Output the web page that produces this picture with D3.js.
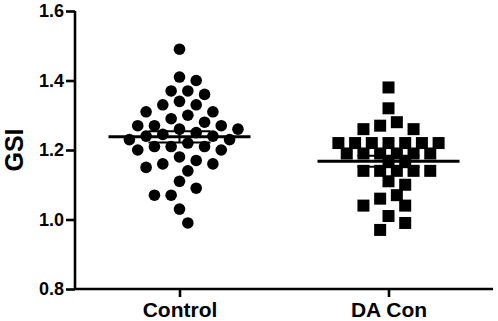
<!DOCTYPE html>
<html>
<head>
<meta charset="utf-8">
<script src="https://cdn.jsdelivr.net/npm/d3@7"></script>
<style>
  body { margin: 0; background: #fff; }
  svg { display: block; font-family: "Liberation Sans", Arial, sans-serif; }
</style>
</head>
<body>
<svg id="chart" width="498" height="321"></svg>
<script>
const groups = ["Control", "DA Con"];
const controlValues = [1.49, 1.41, 1.40, 1.37, 1.37, 1.36, 1.34, 1.33, 1.33, 1.31, 1.31, 1.30, 1.29, 1.28,
  1.27, 1.27, 1.27, 1.26, 1.26, 1.25, 1.245, 1.24, 1.24, 1.23, 1.23, 1.22, 1.21, 1.21, 1.21,
  1.20, 1.20, 1.18, 1.17, 1.16, 1.16, 1.15, 1.14, 1.11, 1.09, 1.07, 1.07, 1.03, 0.99];
const daConValues = [1.38, 1.32, 1.28, 1.27, 1.26, 1.26,
  1.22, 1.22, 1.22, 1.22, 1.22, 1.22, 1.22,
  1.19, 1.19, 1.19, 1.19, 1.19, 1.19,
  1.165, 1.165,
  1.14, 1.14, 1.14, 1.14, 1.14,
  1.11, 1.10, 1.07, 1.06, 1.04, 1.04, 1.01, 0.99, 0.97];
const yTicks = [0.8, 1.0, 1.2, 1.4, 1.6];
const yLabel = "GSI";

const svg = d3.select("#chart");
const plotLeft = 75, plotRight = 493, plotTop = 11, plotBottom = 289;

const x = d3.scalePoint().domain(groups).range([plotLeft, plotRight]).padding(0.5);
const y = d3.scaleLinear().domain([0.8, 1.6]).range([plotBottom, plotTop]);

// simple quantized beeswarm, like prism's scatter dot plot
function swarm(values, cx) {
  const step = 8.35, placed = [];
  values.slice().sort((a, b) => b - a).forEach(v => {
    const py = y(v);
    for (let k = 0; k < 60; k++) {
      const off = k === 0 ? 0 : (k % 2 ? 1 : -1) * Math.ceil(k / 2) * step;
      const px = cx + off;
      const hit = placed.some(p => Math.abs(p.x - px) / 16.5 + Math.abs(p.y - py) / 17 < 1);
      if (!hit) { placed.push({ v, x: px, y: py }); break; }
    }
  });
  return placed;
}

const ctrl = swarm(controlValues, x("Control"));
const da = swarm(daConValues, x("DA Con"));

svg.append("g").selectAll("circle").data(ctrl).enter().append("circle")
  .attr("cx", d => d.x).attr("cy", d => d.y).attr("r", 5.8).attr("fill", "#000");

svg.append("g").selectAll("rect").data(da).enter().append("rect")
  .attr("x", d => d.x - 6).attr("y", d => d.y - 6).attr("width", 12).attr("height", 12).attr("fill", "#000");

// mean line + sem
[[controlValues, "Control"], [daConValues, "DA Con"]].forEach(([vals, g]) => {
  const m = d3.mean(vals), sem = d3.deviation(vals) / Math.sqrt(vals.length);
  const cx = x(g);
  svg.append("line").attr("x1", cx - 71).attr("x2", cx + 71).attr("y1", y(m)).attr("y2", y(m))
    .attr("stroke", "#000").attr("stroke-width", 3);
  svg.append("line").attr("x1", cx).attr("x2", cx).attr("y1", y(m - sem)).attr("y2", y(m + sem))
    .attr("stroke", "#000").attr("stroke-width", 2);
  [m - sem, m + sem].forEach(e => svg.append("line").attr("x1", cx - 31).attr("x2", cx + 31)
    .attr("y1", y(e)).attr("y2", y(e)).attr("stroke", "#000").attr("stroke-width", 2));
});

const yAxis = svg.append("g").attr("transform", `translate(${plotLeft},0)`)
  .call(d3.axisLeft(y).tickValues(yTicks).tickFormat(d3.format(".1f")).tickSize(9).tickPadding(2));
const xAxis = svg.append("g").attr("transform", `translate(0,${plotBottom})`)
  .call(d3.axisBottom(x).tickSize(8).tickPadding(5));

[yAxis, xAxis].forEach(a => {
  a.select(".domain").attr("stroke", "#000").attr("stroke-width", 2.6);
  a.selectAll(".tick line").attr("stroke", "#000").attr("stroke-width", 2.6);
  a.selectAll("text").attr("fill", "#000").attr("font-weight", "bold").attr("font-family", "Liberation Sans, Arial, sans-serif");
});
yAxis.select(".domain").attr("d", `M0,${plotTop}V${plotBottom}`);
xAxis.select(".domain").attr("d", `M${plotLeft},0H${plotRight}`);
yAxis.selectAll("text").attr("font-size", 18);
xAxis.selectAll("text").attr("font-size", 21);

svg.append("text").attr("transform", `translate(23,${(plotTop + plotBottom) / 2}) rotate(-90)`)
  .attr("text-anchor", "middle").attr("font-weight", "bold").attr("font-size", 25).text(yLabel);
</script>
</body>
</html>
